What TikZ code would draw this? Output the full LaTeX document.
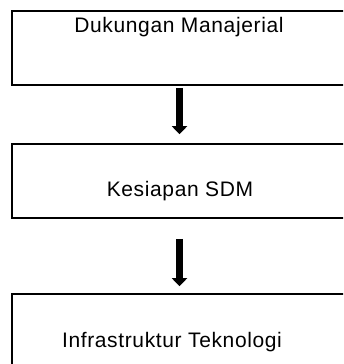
\documentclass[tikz,border=0pt]{standalone}
\usepackage{fontspec}
\setmainfont{Liberation Sans}
\newfontfamily\kotakfont[LetterSpace=3]{Liberation Sans}
\usetikzlibrary{arrows.meta}

\begin{document}
\begin{tikzpicture}[x=1pt,y=-1pt,
   kotak/.style={draw,line width=1.6pt,minimum width=335pt,minimum height=74pt,inner sep=0pt},
   teks/.style={anchor=base,inner sep=0pt,font=\kotakfont\fontsize{21}{22}\selectfont},
   panah/.style={line width=7pt,-{Triangle[width=15pt,length=8pt]}}]
   \useasboundingbox (0,0) rectangle (343,364);
   \clip (0,0) rectangle (343,364);
   % kotak
   \node[kotak] (dukungan) at (179.5, 48) {};
   \node[kotak] (kesiapan) at (179.5,181) {};
   \node[kotak] (infra)    at (179.5,331) {};
   % teks
   \node[teks] (tdukungan) at (179,32)  {Dukungan Manajerial};
   \node[teks] (tkesiapan) at (180,196) {Kesiapan SDM};
   \node[teks] (tinfra)    at (172,347) {Infrastruktur Teknologi};
   % panah
   \draw[panah,shorten <=2pt,shorten >=9pt]  (dukungan.south) -- (kesiapan.north);
   \draw[panah,shorten <=20pt,shorten >=7pt] (kesiapan.south) -- (infra.north);
\end{tikzpicture}
\end{document}
